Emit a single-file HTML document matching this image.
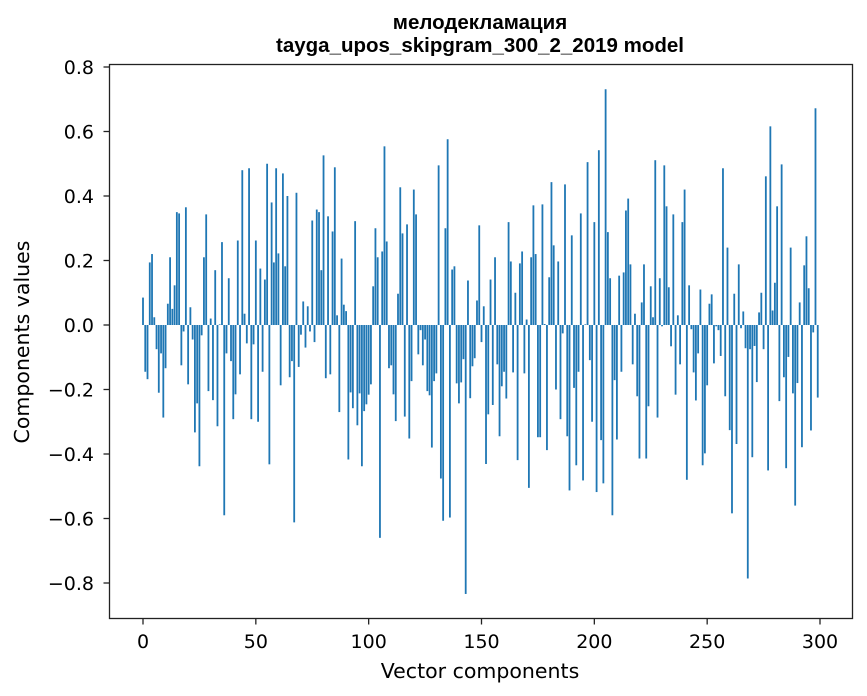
<!DOCTYPE html>
<html><head><meta charset="utf-8"><style>
body{margin:0;background:#fff;}
svg{display:block;font-family:"DejaVu Sans","Liberation Sans",sans-serif;}
</style></head><body>
<svg id="chart" width="867" height="696" viewBox="0 0 867 696">
<rect width="867" height="696" fill="#fff"/>
<text x="480" y="29" text-anchor="middle" font-size="20.5" font-weight="bold" font-family="Liberation Sans, sans-serif">мелодекламация</text>
<text x="480" y="52" text-anchor="middle" font-size="20.5" font-weight="bold" font-family="Liberation Sans, sans-serif">tayga_upos_skipgram_300_2_2019 model</text>
<g id="bars"></g>
<g id="axes"></g>
<rect x="109.5" y="64.5" width="743" height="554" fill="none" stroke="#222" stroke-width="1.3"/>
<text x="480" y="678" text-anchor="middle" font-size="20.5">Vector components</text>
<text transform="translate(29,342) rotate(-90)" text-anchor="middle" font-size="20.5">Components values</text>
</svg>
<script>
const values = [
0.085,-0.145,-0.168,0.194,0.22,0.024,-0.075,-0.21,-0.088,-0.287,
-0.134,0.066,0.21,0.05,0.123,0.35,0.346,-0.125,-0.02,0.365,
-0.184,0.055,-0.045,-0.333,-0.243,-0.438,-0.032,0.21,0.343,-0.205,
0.02,-0.233,0.17,-0.314,0.002,0.257,-0.59,-0.088,0.145,-0.112,
-0.292,-0.215,0.262,-0.153,0.48,0.035,-0.057,0.486,-0.292,-0.06,
0.262,-0.30,0.175,-0.145,0.141,0.50,-0.432,0.38,0.194,0.486,
0.222,-0.187,0.47,0.182,0.40,-0.162,-0.112,-0.612,0.41,-0.13,
-0.03,0.073,-0.07,0.058,-0.02,0.324,-0.053,0.358,0.35,0.17,
0.526,-0.165,0.337,-0.153,0.29,0.489,0.03,-0.27,0.206,0.063,
0.043,-0.417,-0.209,-0.258,0.322,-0.311,-0.212,-0.438,-0.267,-0.246,
-0.216,-0.184,0.12,0.30,0.21,-0.66,0.228,0.554,0.259,-0.134,
-0.125,-0.215,-0.298,0.097,0.427,0.284,-0.284,0.312,-0.352,-0.174,
0.42,0.343,-0.091,-0.016,-0.125,-0.045,-0.205,-0.218,-0.38,-0.174,
-0.15,0.495,-0.476,-0.607,0.30,0.576,-0.597,0.172,0.182,-0.181,
-0.243,-0.178,-0.106,-0.834,0.138,-0.227,-0.128,-0.103,0.076,0.309,
-0.053,0.058,-0.431,-0.277,0.141,-0.248,0.21,-0.122,-0.345,-0.19,
-0.145,-0.228,0.319,0.197,-0.147,0.10,-0.419,0.191,0.228,-0.15,
0.017,-0.505,0.21,0.371,0.22,-0.348,-0.348,0.374,0.003,-0.388,
0.148,0.443,0.247,-0.20,0.197,-0.292,-0.026,0.436,-0.345,-0.513,
0.278,-0.195,-0.435,-0.145,0.346,-0.482,0.002,0.505,-0.109,-0.30,
0.319,-0.518,0.542,-0.357,-0.491,0.731,0.288,0.145,-0.59,-0.171,
-0.355,0.153,-0.145,0.163,0.355,0.392,0.188,-0.122,0.035,-0.221,
-0.414,0.07,0.188,-0.414,-0.252,0.12,0.024,0.511,-0.287,0.145,
-0.004,0.495,0.368,0.117,-0.066,0.343,-0.216,0.03,-0.122,0.319,
0.42,-0.48,0.123,-0.013,-0.147,-0.234,-0.088,0.11,-0.435,-0.398,
-0.187,0.066,0.095,-0.119,-0.004,-0.016,-0.096,0.486,-0.221,0.24,
-0.326,-0.584,0.097,-0.369,0.188,-0.01,0.042,-0.072,-0.786,-0.075,
-0.41,-0.065,-0.177,0.039,0.10,-0.075,0.461,-0.451,0.616,0.045,
0.131,0.368,-0.236,0.498,-0.162,-0.444,-0.099,0.24,-0.212,-0.56,
-0.18,0.07,-0.379,0.185,0.275,0.114,-0.327,-0.023,0.672,-0.225
];
const xTicks = [0,50,100,150,200,250,300];
const yTicks = [-0.8,-0.6,-0.4,-0.2,0.0,0.2,0.4,0.6,0.8];

const NS = "http://www.w3.org/2000/svg";
function xs(v){ return 143 + v*(677/300); }
function ys(v){ return 325 - v*322.5; }

const barsG = document.getElementById('bars');
values.forEach((v,i)=>{
  const r = document.createElementNS(NS,'rect');
  const w = 0.8*(677/300);
  r.setAttribute('x', xs(i)-w/2);
  r.setAttribute('width', w);
  r.setAttribute('y', Math.min(ys(v), ys(0)));
  r.setAttribute('height', Math.abs(ys(v)-ys(0)));
  r.setAttribute('fill', '#1f77b4');
  
  
  barsG.appendChild(r);
});

const axesG = document.getElementById('axes');
xTicks.forEach(t=>{
  const l = document.createElementNS(NS,'line');
  l.setAttribute('x1', xs(t)); l.setAttribute('x2', xs(t));
  l.setAttribute('y1', 618.5); l.setAttribute('y2', 624.5);
  l.setAttribute('stroke', '#222'); l.setAttribute('stroke-width', '1.3');
  
  
  axesG.appendChild(l);
  const tx = document.createElementNS(NS,'text');
  tx.setAttribute('x', xs(t)); tx.setAttribute('y', 648);
  tx.setAttribute('text-anchor', 'middle'); tx.setAttribute('font-size', '19');
  tx.textContent = String(t);
  
  
  axesG.appendChild(tx);
});
yTicks.forEach(t=>{
  const l = document.createElementNS(NS,'line');
  l.setAttribute('x1', 103.5); l.setAttribute('x2', 109.5);
  l.setAttribute('y1', ys(t)); l.setAttribute('y2', ys(t));
  l.setAttribute('stroke', '#222'); l.setAttribute('stroke-width', '1.3');
  
  
  axesG.appendChild(l);
  const tx = document.createElementNS(NS,'text');
  tx.setAttribute('x', 94); tx.setAttribute('y', ys(t)+7);
  tx.setAttribute('text-anchor', 'end'); tx.setAttribute('font-size', '19');
  tx.textContent = (t<0?'\u2212':'') + Math.abs(t).toFixed(1);
  
  
  axesG.appendChild(tx);
});
</script>
</body></html>
